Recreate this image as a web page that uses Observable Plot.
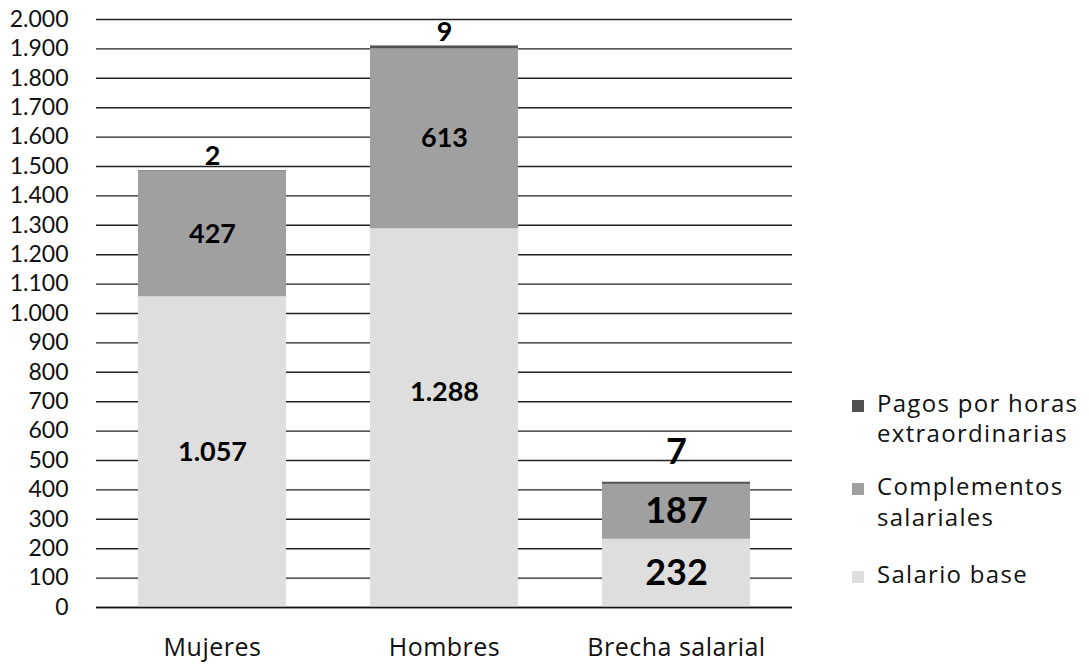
<!DOCTYPE html>
<html>
<head>
<meta charset="utf-8">
<script src="https://cdn.jsdelivr.net/npm/d3@7"></script>
<script src="https://cdn.jsdelivr.net/npm/@observablehq/plot@0.6"></script>
<style>
  body { margin: 0; background: #fff; }
  #wrap { position: relative; width: 1089px; height: 668px; }
  #legend { position: absolute; left: 0; top: 0; }
</style>
</head>
<body>
<div id="wrap"></div>
<script>
const categories = ["Mujeres", "Hombres", "Brecha salarial"];
const salarioBase = [1057, 1288, 232];
const complementos = [427, 613, 187];
const pagosHoras = [2, 9, 7];
const seriesNames = ["Salario base", "Complementos salariales", "Pagos por horas extraordinarias"];
const seriesColors = ["#dedede", "#a0a0a0", "#505050"];
const legendLines = [["Pagos por horas", "extraordinarias"], ["Complementos", "salariales"], ["Salario base"]];
const yTicks = d3.range(0, 2001, 100);

const es = d3.formatLocale({decimal: ",", thousands: ".", grouping: [3], currency: ["", " €"]});
const fmt = es.format(",d");

const rows = [];
categories.forEach((c, i) => {
  rows.push({cat: c, serie: seriesNames[0], value: salarioBase[i], big: c === "Brecha salarial"});
  rows.push({cat: c, serie: seriesNames[1], value: complementos[i], big: c === "Brecha salarial"});
  rows.push({cat: c, serie: seriesNames[2], value: pagosHoras[i], big: c === "Brecha salarial"});
});
const totals = categories.map((c, i) => ({cat: c, total: salarioBase[i] + complementos[i] + pagosHoras[i], value: pagosHoras[i], big: c === "Brecha salarial"}));

const stackOpts = {x: "cat", y: "value", z: "serie", order: seriesNames};
const font = "Lato, 'Open Sans', sans-serif";
const isPagos = d => d.serie === seriesNames[2];
const isHombresBase = d => d.cat === "Hombres" && d.serie === seriesNames[0];
const textNormal = d => (!d.big && !isPagos(d) && !isHombresBase(d)) ? fmt(d.value) : null;
const textHombresBase = d => isHombresBase(d) ? fmt(d.value) : null;
const textBig = d => (d.big && !isPagos(d)) ? fmt(d.value) : null;

const chart = Plot.plot({
  width: 1089,
  height: 668,
  marginLeft: 96,
  marginRight: 297,
  marginTop: 19,
  marginBottom: 61,
  style: {fontFamily: font, color: "#111", background: "#fff"},
  x: {domain: categories, paddingInner: 0.36, paddingOuter: 0.18, label: null},
  y: {domain: [0, 2000], label: null},
  color: {domain: seriesNames, range: seriesColors},
  marks: [
    Plot.ruleY(yTicks, {stroke: "#222", strokeWidth: 1.4}),
    Plot.ruleX([0], {frameAnchor: "left", stroke: "#111", strokeWidth: 1.5}),
    Plot.axisY({ticks: yTicks, tickFormat: fmt, tickSize: 0, tickPadding: 28, fontSize: 23, fill: "#111", label: null}),
    Plot.axisX({tickSize: 0, tickPadding: 31, fontSize: 25, fontFamily: "'Open Sans', Lato, sans-serif", fill: "#111", label: null}),
    Plot.barY(rows, Plot.stackY({...stackOpts, fill: "serie"})),
    Plot.text(rows, Plot.stackY({...stackOpts, text: textNormal, fontWeight: "bold", fontSize: 27, fill: "#000"})),
    Plot.text(rows, Plot.stackY({...stackOpts, text: textHombresBase, dy: -26, fontWeight: "bold", fontSize: 27, fill: "#000"})),
    Plot.text(rows, Plot.stackY({...stackOpts, text: textBig, fontWeight: "bold", fontSize: 36, fill: "#000"})),
    Plot.text(totals.filter(d => !d.big), {x: "cat", y: "total", text: d => fmt(d.value), dy: -14, fontWeight: "bold", fontSize: 27, fill: "#000"}),
    Plot.text(totals.filter(d => d.big), {x: "cat", y: "total", text: d => fmt(d.value), dy: -30, fontWeight: "bold", fontSize: 36, fill: "#000"}),
    Plot.ruleY([0], {stroke: "#111", strokeWidth: 1.5})
  ]
});
d3.select(chart).selectAll('g[aria-label="x-axis tick label"] text').attr("letter-spacing", 0.5);
const wrap = document.getElementById("wrap");
wrap.appendChild(chart);

// legend (beside the chart)
const lg = d3.select(wrap).append("svg").attr("id", "legend").attr("width", 1089).attr("height", 668)
  .style("pointer-events", "none");
const legendColors = [seriesColors[2], seriesColors[1], seriesColors[0]];
const baselines = [[412, 442], [495, 526], [583]];
legendLines.forEach((lines, i) => {
  const b0 = baselines[i][0];
  lg.append("rect").attr("x", 852).attr("y", b0 - 12).attr("width", 12).attr("height", 12).attr("fill", legendColors[i]);
  lines.forEach((t, j) => {
    lg.append("text").attr("x", 877).attr("y", baselines[i][j]).text(t)
      .attr("font-family", "'Open Sans', Lato, sans-serif").attr("font-size", 24).attr("letter-spacing", 1.3).attr("fill", "#111");
  });
});
</script>
</body>
</html>
